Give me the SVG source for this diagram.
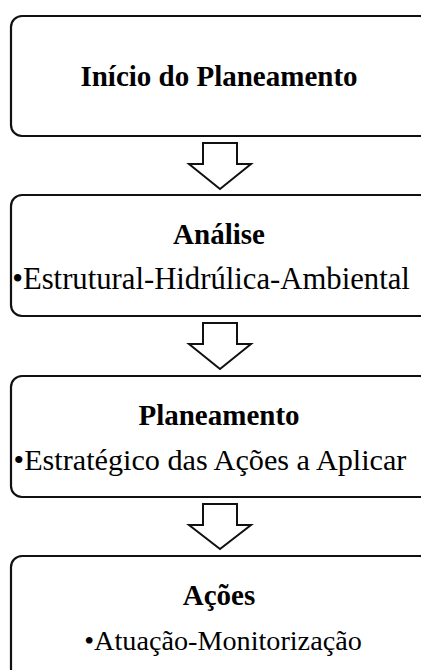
<svg xmlns="http://www.w3.org/2000/svg" width="421" height="670" viewBox="0 0 421 670">
<style>
.box{fill:#fff;stroke:#111;stroke-width:2.2}
.arrow{fill:#fff;stroke:#111;stroke-width:2;stroke-linejoin:miter}
.t{font-family:"Liberation Serif","Times New Roman",serif;fill:#000;text-anchor:middle}
.b{font-weight:bold;font-size:29px}
.r{font-size:30px}
</style>
<rect width="421" height="670" fill="#fff"/>
<g id="n1"><rect class="box" x="11" y="16" width="420" height="120" rx="11"/><text class="t b" x="219" y="86">Início do Planeamento</text></g>
<g id="n2"><rect class="box" x="11" y="195" width="420" height="121" rx="11"/><text class="t b" x="219" y="244">Análise</text><text class="t r" x="211" y="289" style="font-size:30.7px">•Estrutural-Hidrúlica-Ambiental</text></g>
<g id="n3"><rect class="box" x="11" y="376" width="420" height="121" rx="11"/><text class="t b" x="219" y="425">Planeamento</text><text class="t r" x="210" y="470" style="font-size:30.2px">•Estratégico das Ações a Aplicar</text></g>
<g id="n4"><rect class="box" x="11" y="556" width="420" height="130" rx="11"/><text class="t b" x="219" y="605">Ações</text><text class="t r" x="223" y="650" style="font-size:28.2px">•Atuação-Monitorização</text></g>
<g id="connectors">
<polygon class="arrow" points="203,143 237,143 237,164 251,164 220,189 189,164 203,164"/>
<polygon class="arrow" points="203,323 237,323 237,344 251,344 220,369 189,344 203,344"/>
<polygon class="arrow" points="203,504 237,504 237,525 251,525 220,549 189,525 203,525"/>
</g>
</svg>
